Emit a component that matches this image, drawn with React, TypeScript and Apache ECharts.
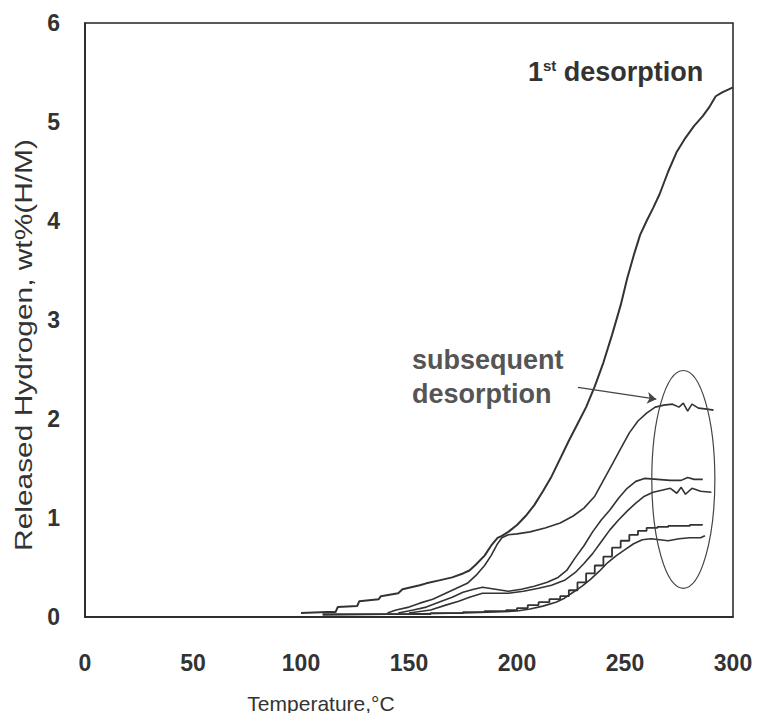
import React, { useEffect, useRef } from "react";
import * as echarts from "echarts";

const xTicks = [0, 50, 100, 150, 200, 250, 300];
const yTicks = [0, 1, 2, 3, 4, 5, 6];

const firstDesorption: [number, number][] = [
  [100, 0.04], [112, 0.05], [116, 0.05], [117, 0.1], [126, 0.11], [127, 0.16], [136, 0.18], [137, 0.21],
  [145, 0.24], [147, 0.28], [155, 0.32], [158, 0.34], [164, 0.37], [170, 0.4], [175, 0.44], [178, 0.47],
  [181, 0.53], [185, 0.62], [188, 0.72], [191, 0.8], [193, 0.82], [196, 0.86], [200, 0.93], [204, 1.02],
  [208, 1.13], [212, 1.27], [216, 1.42], [220, 1.6], [224, 1.78], [228, 1.95], [232, 2.12], [236, 2.33],
  [240, 2.57], [244, 2.85], [248, 3.15], [251, 3.42], [254, 3.65], [257, 3.86], [260, 4.0], [263, 4.13],
  [266, 4.27], [270, 4.5], [274, 4.7], [278, 4.84], [282, 4.96], [286, 5.06], [289, 5.15], [292, 5.26],
  [295, 5.3], [298, 5.33], [300, 5.35],
];

const subsequent1: [number, number][] = [
  [140, 0.04], [144, 0.07], [150, 0.1], [155, 0.14], [161, 0.18], [167, 0.24], [172, 0.29], [177, 0.34],
  [181, 0.42], [185, 0.52], [188, 0.62], [191, 0.74], [193, 0.8], [196, 0.83], [200, 0.84], [206, 0.86],
  [213, 0.9], [220, 0.95], [226, 1.02], [231, 1.1], [236, 1.22], [240, 1.38], [244, 1.54], [248, 1.7],
  [252, 1.86], [256, 1.98], [260, 2.06], [264, 2.12], [268, 2.14], [272, 2.15], [275, 2.12], [277, 2.16],
  [279, 2.08], [281, 2.15], [284, 2.11], [288, 2.1], [291, 2.09],
];

const subsequent2: [number, number][] = [
  [145, 0.04], [152, 0.07], [158, 0.1], [165, 0.16], [170, 0.2], [175, 0.25], [180, 0.28], [184, 0.3],
  [190, 0.28], [196, 0.26], [202, 0.28], [208, 0.31], [214, 0.35], [219, 0.4], [223, 0.47], [227, 0.6],
  [231, 0.72], [235, 0.86], [239, 0.98], [243, 1.08], [247, 1.2], [251, 1.3], [255, 1.37], [259, 1.4],
  [265, 1.39], [271, 1.38], [276, 1.38], [279, 1.41], [282, 1.39], [286, 1.39],
];

const subsequent3: [number, number][] = [
  [150, 0.04], [160, 0.07], [167, 0.12], [173, 0.16], [178, 0.2], [184, 0.24], [190, 0.24], [196, 0.24],
  [203, 0.26], [210, 0.29], [216, 0.32], [222, 0.37], [227, 0.45], [231, 0.54], [235, 0.64], [239, 0.76],
  [243, 0.88], [247, 0.98], [251, 1.07], [255, 1.15], [259, 1.22], [263, 1.26], [267, 1.28], [271, 1.3],
  [274, 1.25], [276, 1.31], [278, 1.24], [281, 1.3], [285, 1.27], [290, 1.26],
];

const subsequent4: [number, number][] = [
  [110, 0.03], [140, 0.03], [160, 0.04], [175, 0.05], [185, 0.06], [195, 0.07], [200, 0.09], [205, 0.12],
  [210, 0.15], [215, 0.18], [220, 0.21], [224, 0.27], [228, 0.35], [232, 0.44], [236, 0.52], [240, 0.61],
  [244, 0.7], [248, 0.77], [252, 0.83], [256, 0.87], [260, 0.9], [265, 0.91], [270, 0.92], [280, 0.93],
  [286, 0.93],
];

const subsequent5: [number, number][] = [
  [110, 0.02], [150, 0.03], [175, 0.04], [190, 0.05], [200, 0.06], [206, 0.08], [212, 0.11], [218, 0.15],
  [222, 0.19], [226, 0.25], [230, 0.31], [234, 0.38], [238, 0.46], [242, 0.55], [246, 0.62], [250, 0.68],
  [254, 0.74], [258, 0.78], [262, 0.79], [266, 0.78], [270, 0.77], [275, 0.79], [280, 0.8], [285, 0.8],
  [287, 0.82],
];

// ellipse: centre x, centre y, half-width (x units), half-height (y units)
const ellipseData = [[277, 1.39, 14.6, 1.1]];
// arrow from label to curve
const arrowCoords: [number, number][] = [[228.2, 2.32], [264.5, 2.2]];

const FONT = "'Liberation Sans', Arial, Helvetica, sans-serif";
const LINE = "#333333";

export default function App() {
  const ref = useRef<HTMLDivElement>(null);
  useEffect(() => {
    if (!ref.current) return;
    const chart = echarts.init(ref.current, undefined, { renderer: "svg" });
    const lineSeries = (data: [number, number][], width: number, step?: string) => ({
      type: "line",
      data,
      showSymbol: false,
      symbol: "none",
      step: step || false,
      lineStyle: { color: LINE, width },
      z: 3,
    });
    chart.setOption({
      animation: false,
      backgroundColor: "#ffffff",
      grid: {
        left: 85,
        right: 31,
        top: 23,
        bottom: 104,
        show: true,
        borderColor: "#222",
        borderWidth: 1.5,
        backgroundColor: "transparent",
      },
      xAxis: {
        type: "value",
        min: xTicks[0],
        max: xTicks[xTicks.length - 1],
        interval: 50,
        axisLine: { show: true, lineStyle: { color: "#222", width: 1.5 } },
        axisTick: { show: false },
        splitLine: { show: false },
        axisLabel: {
          margin: 34,
          color: "#333",
          fontSize: 23,
          fontWeight: "bold",
          fontFamily: FONT,
        },
      },
      yAxis: {
        type: "value",
        min: yTicks[0],
        max: yTicks[yTicks.length - 1],
        interval: 1,
        axisLine: { show: true, lineStyle: { color: "#222", width: 1.5 } },
        axisTick: { show: false },
        splitLine: { show: false },
        axisLabel: {
          margin: 25,
          color: "#333",
          fontSize: 23,
          fontWeight: "bold",
          fontFamily: FONT,
        },
      },
      graphic: [
        {
          type: "text",
          x: 321,
          y: 703,
          style: {
            text: "Temperature,°C",
            font: `21px ${FONT}`,
            fill: "#333",
            align: "center",
            verticalAlign: "middle",
          },
        },
        {
          type: "text",
          x: 24,
          y: 345,
          rotation: Math.PI / 2,
          scaleX: 1.3,
          style: {
            text: "Released Hydrogen, wt%(H/M)",
            font: `23px ${FONT}`,
            fill: "#333",
            align: "center",
            verticalAlign: "middle",
          },
        },
        {
          type: "text",
          x: 528,
          y: 72,
          style: {
            text: "{a|1}{s|st}{a| desorption}",
            fill: "#333",
            verticalAlign: "middle",
            rich: {
              a: { font: `bold 27px ${FONT}`, fill: "#333" },
              s: { font: `bold 15px ${FONT}`, fill: "#333", verticalAlign: "top", padding: [0, 0, 14, 0] },
            },
          },
        },
        {
          type: "text",
          x: 412,
          y: 377,
          style: {
            text: "subsequent\ndesorption",
            font: `bold 27px ${FONT}`,
            fill: "#555",
            lineHeight: 34,
            verticalAlign: "middle",
          },
        },
      ],
      series: [
        lineSeries(firstDesorption, 2),
        lineSeries(subsequent1, 1.6),
        lineSeries(subsequent2, 1.6),
        lineSeries(subsequent3, 1.6),
        lineSeries(subsequent4, 1.8, "end"),
        lineSeries(subsequent5, 1.6),
        {
          type: "custom",
          data: ellipseData,
          renderItem: (params: any, api: any) => {
            const c = api.coord([api.value(0), api.value(1)]);
            const s = api.size([api.value(2), api.value(3)]);
            return {
              type: "ellipse",
              shape: { cx: c[0], cy: c[1], rx: s[0], ry: s[1] },
              style: { fill: "none", stroke: "#444", lineWidth: 1.2 },
            };
          },
          z: 4,
        },
        {
          type: "lines",
          coordinateSystem: "cartesian2d",
          symbol: ["none", "arrow"],
          symbolSize: 9,
          lineStyle: { color: "#444", width: 1.3, opacity: 1 },
          data: [{ coords: arrowCoords }],
          z: 5,
        },
      ],
    });
    return () => chart.dispose();
  }, []);
  return <div ref={ref} style={{ width: 764, height: 721, margin: -8 }} />;
}
